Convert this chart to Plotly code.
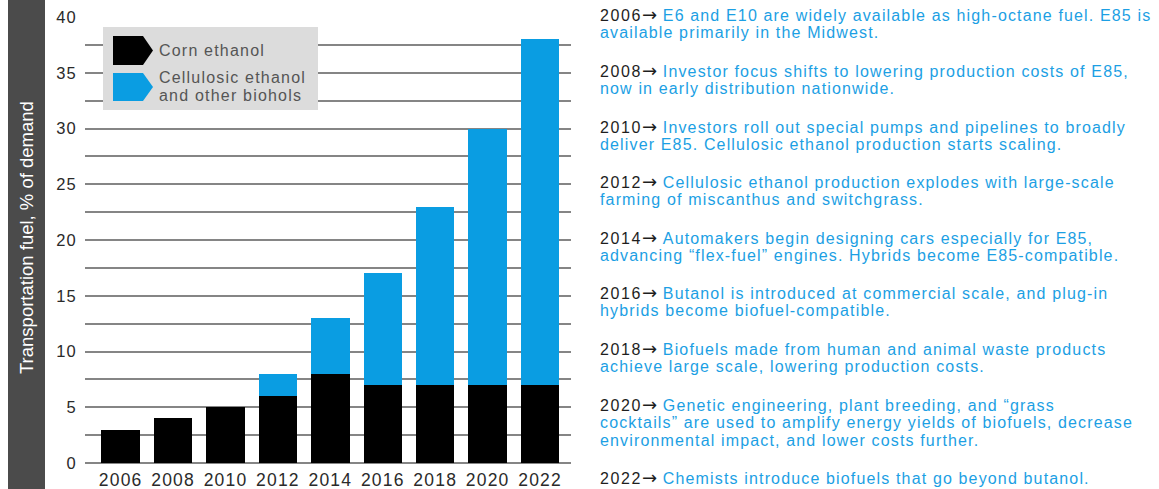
import plotly.graph_objects as go

# Share of transportation fuel demand, %
years = ["2006", "2008", "2010", "2012", "2014", "2016", "2018", "2020", "2022"]
corn_ethanol = [3, 4, 5, 6, 8, 7, 7, 7, 7]
cellulosic = [0, 0, 0, 2, 5, 10, 16, 23, 31]
y_ticks = [0, 5, 10, 15, 20, 25, 30, 35, 40]

series_names = ["Corn ethanol", "Cellulosic ethanol<br>and other biohols"]
y_title = "Transportation fuel, % of demand"

# Milestones shown beside the chart, one list of wrapped lines per year
milestones = [
    ("2006", ["E6 and E10 are widely available as high-octane fuel. E85 is",
              "available primarily in the Midwest."]),
    ("2008", ["Investor focus shifts to lowering production costs of E85,",
              "now in early distribution nationwide."]),
    ("2010", ["Investors roll out special pumps and pipelines to broadly",
              "deliver E85. Cellulosic ethanol production starts scaling."]),
    ("2012", ["Cellulosic ethanol production explodes with large-scale",
              "farming of miscanthus and switchgrass."]),
    ("2014", ["Automakers begin designing cars especially for E85,",
              "advancing \u201cflex-fuel\u201d engines. Hybrids become E85-compatible."]),
    ("2016", ["Butanol is introduced at commercial scale, and plug-in",
              "hybrids become biofuel-compatible."]),
    ("2018", ["Biofuels made from human and animal waste products",
              "achieve large scale, lowering production costs."]),
    ("2020", ["Genetic engineering, plant breeding, and \u201cgrass",
              "cocktails\u201d are used to amplify energy yields of biofuels, decrease",
              "environmental impact, and lower costs further."]),
    ("2022", ["Chemists introduce biofuels that go beyond butanol."]),
]

W, H = 1159, 489
FONT = "Liberation Sans, Arial, sans-serif"
BLUE = "#0a9de2"
TEXT_BLUE = "#1c9fe4"
GRID = "#858585"


def px(x):
    return x / W


def py(y):
    return 1 - y / H


def spaced(text, ls):
    return f"<span style='letter-spacing:{ls}px'>{text}</span>"


fig = go.Figure()
fig.add_bar(x=years, y=corn_ethanol, name=series_names[0],
            marker=dict(color="#000000", line=dict(width=0)))
fig.add_bar(x=years, y=cellulosic, name=series_names[1],
            marker=dict(color=BLUE, line=dict(width=0)))

fig.update_layout(
    barmode="stack",
    bargap=0.265,
    width=W, height=H,
    margin=dict(l=0, r=0, t=0, b=0),
    showlegend=False,
    plot_bgcolor="white",
    paper_bgcolor="white",
    font=dict(family=FONT, color="#333333"),
)

fig.update_xaxes(
    type="category",
    domain=[px(85), px(571)],
    range=[-0.68, 8.59],
    tickvals=years,
    ticktext=[spaced(y, 1.2) for y in years],
    showgrid=False, zeroline=False, showline=False, ticks="",
    ticklabelstandoff=4,
    tickfont=dict(size=17.5, color="#2a2a2a"),
    automargin=False,
)
fig.update_yaxes(
    domain=[py(463), py(17)],
    range=[0, 40],
    tickvals=y_ticks,
    ticktext=[spaced(str(v), 1.2) for v in y_ticks],
    showgrid=True, gridcolor=GRID, gridwidth=1.5,
    zeroline=True, zerolinecolor=GRID, zerolinewidth=1.5,
    minor=dict(dtick=2.5, tick0=0, showgrid=True, gridcolor=GRID, gridwidth=1.5),
    showline=False, ticks="",
    ticklabelstandoff=7,
    tickfont=dict(size=16.5, color="#2a2a2a"),
    automargin=False,
)

shapes = []
annotations = []

# dark band carrying the value-axis title
shapes.append(dict(type="rect", xref="paper", yref="paper",
                   x0=px(8), x1=px(45), y0=py(489), y1=py(0),
                   fillcolor="#4b4b4b", line=dict(width=0), layer="below"))
annotations.append(dict(xref="paper", yref="paper", x=px(27), y=py(238),
                        text=y_title, textangle=-90, showarrow=False,
                        font=dict(size=18.5, color="white", family=FONT),
                        xanchor="center", yanchor="middle"))

# legend panel with arrow-shaped swatches
shapes.append(dict(type="rect", xref="paper", yref="paper",
                   x0=px(103), x1=px(318), y0=py(110), y1=py(27),
                   fillcolor="#dcdcdc", line=dict(width=0), layer="above"))


def arrow_path(x0, y0, y1, body=30, tip=10):
    ym = (y0 + y1) / 2
    pts = [(x0, y0), (x0 + body, y0), (x0 + body + tip, ym), (x0 + body, y1), (x0, y1)]
    return "M " + " L ".join(f"{px(a):.5f},{py(b):.5f}" for a, b in pts) + " Z"


shapes.append(dict(type="path", xref="paper", yref="paper", path=arrow_path(113, 36, 65),
                   fillcolor="#000000", line=dict(width=0), layer="above"))
shapes.append(dict(type="path", xref="paper", yref="paper", path=arrow_path(113, 73, 101),
                   fillcolor=BLUE, line=dict(width=0), layer="above"))

legend_lines = [(series_names[0], 50)] + [
    (t, y) for t, y in zip(series_names[1].split("<br>"), (78, 96))]
for txt, yc in legend_lines:
    annotations.append(dict(xref="paper", yref="paper", x=px(157), y=py(yc),
                            text=spaced(txt, 1.2), showarrow=False,
                            xanchor="left", yanchor="middle",
                            font=dict(size=16, color="#555555", family=FONT)))

# milestone notes on the right
y = 14.8
step = 18.1
for year, lines in milestones:
    for i, line in enumerate(lines):
        if i == 0:
            txt = (f"<span style='color:#1e1e1e'>{spaced(year, 1.6)}"
                   f"<span style='font-family:DejaVu Sans;font-size:18px'>\u2192\u00a0</span></span>"
                   f"{spaced(line, 1.15)}")
        else:
            txt = spaced(line, 1.15)
        annotations.append(dict(xref="paper", yref="paper", x=px(598), y=py(y + i * step),
                                text=txt, showarrow=False,
                                xanchor="left", yanchor="middle",
                                font=dict(size=16, color=TEXT_BLUE, family=FONT)))
    y += len(lines) * step + 19.4

fig.update_layout(shapes=shapes, annotations=annotations)

fig.write_html("out.html")
